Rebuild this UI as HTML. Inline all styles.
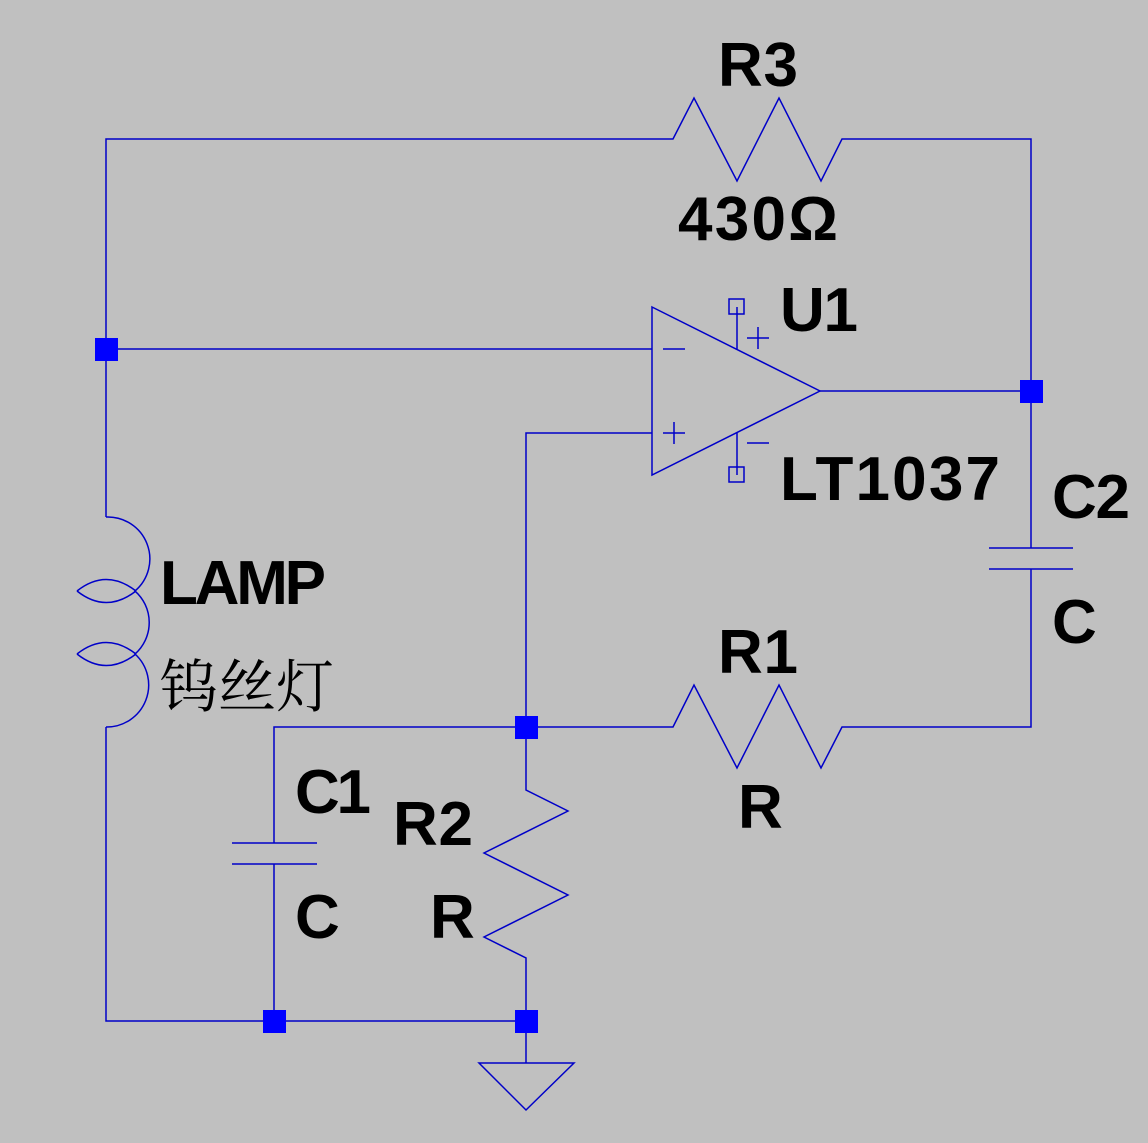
<!DOCTYPE html>
<html><head><meta charset="utf-8"><style>
html,body{margin:0;padding:0;background:#c0c0c0;}
svg{display:block}
.t{font-family:"Liberation Sans",sans-serif;font-weight:bold;font-size:62px;fill:#000}
.c{font-family:"Liberation Serif","Noto Serif CJK SC",serif;font-size:58px;fill:#000}
</style></head><body>
<svg width="1148" height="1143" viewBox="0 0 1148 1143" xmlns="http://www.w3.org/2000/svg">
<rect width="1148" height="1143" fill="#c0c0c0"/>
<g fill="none" stroke="#0000c8" stroke-width="1.5">
<polyline points="106,517 106,139 673,139 694,98 737,181 779,98 821,181 842,139 1031,139 1031,548"/>
<line x1="989" y1="548" x2="1073" y2="548"/><line x1="989" y1="569" x2="1073" y2="569"/>
<polyline points="1031,569 1031,727 842,727 821,768 779,685 737,768 694,685 673,727 274,727 274,843"/>
<line x1="106" y1="349" x2="652" y2="349"/>
<polyline points="652,433 526,433 526,790 568,811 484,853 568,895 484,937 526,958 526,1063"/>
<line x1="820" y1="391" x2="1031" y2="391"/>
<line x1="232" y1="843" x2="317" y2="843"/><line x1="232" y1="864" x2="317" y2="864"/>
<polyline points="274,864 274,1021"/>
<polyline points="106,727 106,1021 526,1021"/>
<polygon points="479,1063 574,1063 526,1110"/>
<polygon points="652,307 820,391 652,475"/>
<line x1="737" y1="307" x2="737" y2="349"/><line x1="737" y1="433" x2="737" y2="475"/>
<rect x="729" y="299" width="15" height="15"/><rect x="729" y="467" width="15" height="15"/>
<line x1="663" y1="349" x2="685" y2="349"/>
<line x1="663" y1="433" x2="685" y2="433"/><line x1="674" y1="422" x2="674" y2="444"/>
<line x1="747" y1="338" x2="769" y2="338"/><line x1="758" y1="327" x2="758" y2="349"/>
<line x1="747" y1="443" x2="769" y2="443"/>
<!-- lamp -->
<path d="M106,517 A42,42 0 0 1 135,591 A42,42 0 0 1 135,654 A42,42 0 0 1 106,727"/>
<path d="M77,591 Q106,568 136,591 M77,591 Q106,614 136,591"/>
<path d="M77,654 Q106,631 136,654 M77,654 Q106,677 136,654"/>
</g>
<g fill="#0000ff">
<rect x="95" y="338" width="23" height="23"/>
<rect x="1020" y="380" width="23" height="23"/>
<rect x="515" y="716" width="23" height="23"/>
<rect x="263" y="1010" width="23" height="23"/>
<rect x="515" y="1010" width="23" height="23"/>
</g>
<text class="t" x="718" y="86" textLength="80">R3</text>
<text class="t" x="678" y="240" textLength="160">430Ω</text>
<text class="t" x="780" y="331" textLength="78">U1</text>
<text class="t" x="780" y="500" textLength="220">LT1037</text>
<text class="t" x="1052" y="518" textLength="78">C2</text>
<text class="t" x="1052" y="643">C</text>
<text class="t" x="160" y="604" textLength="166">LAMP</text>
<text class="c" x="160" y="707">钨丝灯</text>
<text class="t" x="718" y="673" textLength="80">R1</text>
<text class="t" x="738" y="828">R</text>
<text class="t" x="295" y="813" textLength="76">C1</text>
<text class="t" x="393" y="845" textLength="80">R2</text>
<text class="t" x="295" y="938">C</text>
<text class="t" x="430" y="938">R</text>
</svg>
</body></html>
